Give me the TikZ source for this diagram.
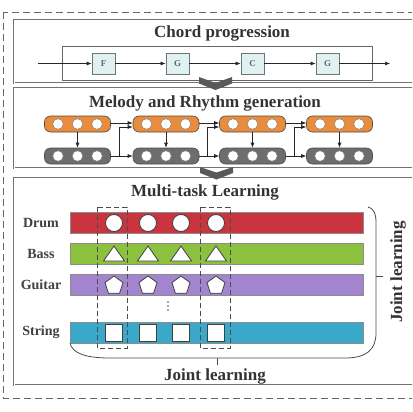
\documentclass[tikz,border=0pt]{standalone}
\usepackage{fontspec}
\setmainfont{Liberation Serif}
\usetikzlibrary{arrows.meta,shapes.geometric}
\definecolor{drumc}{HTML}{C9343F}
\definecolor{bassc}{HTML}{8CC03F}
\definecolor{guitc}{HTML}{A385CF}
\definecolor{strc}{HTML}{3AA9C9}
\definecolor{orng}{HTML}{E98C3C}
\definecolor{pgray}{HTML}{6D6D6D}
\definecolor{chordfill}{HTML}{DFF1F1}
\tikzset{
 panel/.style={draw=black!55, line width=0.6pt, double=white, double distance=0.9pt},
 title/.style={font=\fontsize{17}{19}\selectfont\bfseries, text=black!80, inner sep=0pt},
 lab/.style={font=\fontsize{14}{16}\selectfont\bfseries, text=black!75, inner sep=0pt},
 chord/.style={draw=black!55, fill=chordfill, minimum width=23pt, minimum height=21pt, inner sep=0pt, font=\fontsize{9}{10}\selectfont\bfseries, text=black!60, line width=0.8pt},
 arr/.style={-{Latex[length=5pt,width=4pt]}, draw=black!85, line width=0.6pt},
 pill/.style={draw=black!70, rounded corners=6pt, minimum width=66pt, minimum height=16pt, inner sep=0pt, line width=0.6pt},
 hole/.style={circle, fill=white, draw=black!50, minimum size=10.5pt, inner sep=0pt, line width=0.5pt},
 bar/.style={draw=black!45, minimum width=293pt, minimum height=21pt, inner sep=0pt, line width=0.6pt},
 shp/.style={fill=white, draw=black!75, line width=0.8pt},
 col/.style={draw=black!70, dash pattern=on 5pt off 3pt, line width=0.7pt},
 chev/.style={fill=black!65, draw=none},
}
\begin{document}
\begin{tikzpicture}[x=1pt,y=-1pt]
\useasboundingbox (0,0) rectangle (412,412);
\clip (0,0) rectangle (412,412);
% outer dashed frame
\draw[dash pattern=on 7pt off 4pt, draw=black!60, line width=0.7pt] (3,12) rectangle (450,398);
% panels
\draw[panel] (14,20) rectangle (440,83);
\draw[panel] (14,88) rectangle (440,168);
\draw[panel] (14,178) rectangle (440,385);
% ---- Chord progression
\node[title] (t1) at (222,33) {Chord progression};
\draw[draw=black!60, line width=0.8pt] (62,46) rectangle (372,80);
\node[chord] (c1) at (103.5,63.5) {F};
\node[chord] (c2) at (177.5,63.5) {G};
\node[chord] (c3) at (252.5,63.5) {C};
\node[chord] (c4) at (327.5,63.5) {G};
\coordinate (cs) at (38,63.5);
\coordinate (ce) at (390,63.5);
\draw[arr] (cs) -- (c1.west);
\draw[arr] (c1.east) -- (c2.west);
\draw[arr] (c2.east) -- (c3.west);
\draw[arr] (c3.east) -- (c4.west);
\draw[arr] (c4.east) -- (ce);
\fill[chev] (199,77) -- (215.5,83) -- (232,77) -- (232,83.5) -- (215.5,90) -- (199,83.5) -- cycle;
% ---- Melody and rhythm
\node[title] (t2) at (205,103) {Melody and Rhythm generation};
\foreach \i/\x in {1/77.5,2/166,3/252.5,4/339.5}{
 \node[pill, fill=orng] (o\i) at (\x,124) {};
 \node[pill, fill=pgray] (g\i) at (\x,156) {};
 \foreach \d in {-19.5,0,19.5}{
   \node[hole] at (\x+\d,124) {};
   \node[hole] at (\x+\d,156) {};
 }
}
\foreach \i in {1,...,4} \draw[arr] (o\i.south) -- (g\i.north);
\foreach \i/\j in {1/2,2/3,3/4}{
 \draw[arr] ([yshift=1pt]o\i.east) -- ([yshift=1pt]o\j.west);
 \draw[arr] (g\i.east) -- (g\j.west);
 \draw[arr] (g\i.east) -- ++(8,0) |- ([yshift=-3pt]o\j.west);
}
\fill[chev] (200,167) -- (216.5,172.5) -- (233,167) -- (233,173) -- (216.5,179.5) -- (200,173) -- cycle;
% ---- Multi-task learning
\node[title] (t3) at (205,192) {Multi-task Learning};
\node[bar, fill=drumc] (drum) at (216.5,222.5) {};
\node[bar, fill=bassc] (bass) at (216.5,253.5) {};
\node[bar, fill=guitc] (guit) at (216.5,284.5) {};
\node[bar, fill=strc] (str) at (216.5,332.5) {};
\node[lab] (ldrum) at (41,222.5) {Drum};
\node[lab] (lbass) at (41,253.5) {Bass};
\node[lab] (lguit) at (41,284.5) {Guitar};
\node[lab] (lstr) at (41,332.5) {String};
\foreach \x in {114,148,181,216}{
 \node[shp, circle, minimum size=17pt, inner sep=0pt] at (\x,223) {};
 \draw[shp] (\x-10.5,261) -- (\x,246) -- (\x+10.5,261) -- cycle;
 \node[shp, regular polygon, regular polygon sides=5, minimum size=19pt, inner sep=0pt] at (\x,285.5) {};
 \node[shp, minimum size=17pt, inner sep=0pt] at (\x,333) {};
}
\draw[col] (97,207) rectangle (127,348);
\draw[col] (200,207) rectangle (230,348);
\foreach \yy in {302,306,310} \fill[black!70] (168,\yy) circle (0.9);
% joint learning bracket
\draw[draw=black!70, line width=0.8pt] (70,343) .. controls (72,353) and (85,358) .. (110,358) -- (345,358) .. controls (366,358) and (376,350) .. (376,333) -- (376,222) .. controls (376,213) and (373,208) .. (368,207);
\coordinate (rt) at (376,276);
\coordinate (bt) at (217,358);
\draw[draw=black!70, line width=0.8pt] (rt) -- ++(7,0);
\draw[draw=black!70, line width=0.8pt] (bt) -- ++(0,7);
\node[title, rotate=90] (jr) at (398,272) {Joint learning};
\node[title] (jb) at (215,376) {Joint learning};
\end{tikzpicture}
\end{document}
